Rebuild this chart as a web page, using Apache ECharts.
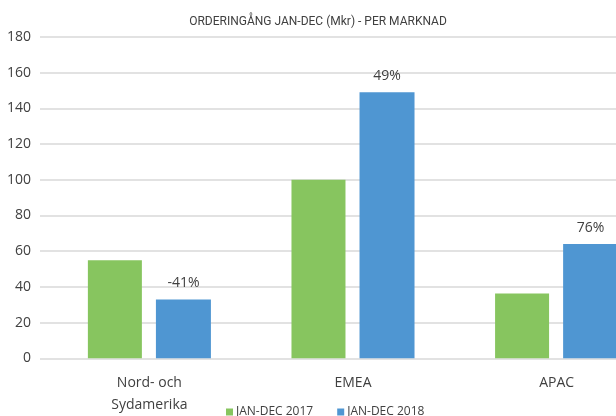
<!DOCTYPE html>
<html><head><meta charset="utf-8">
<script src="https://cdn.jsdelivr.net/npm/echarts@6/dist/echarts.min.js"></script>
<style>html,body{margin:0;padding:0;background:#fff}#c{width:616px;height:416px}</style>
</head><body><div id="c"></div>
<script>
const categories = ['Nord- och\nSydamerika', 'EMEA', 'APAC'];
const seriesNames = ['JAN-DEC 2017', 'JAN-DEC 2018'];
const values2017 = [55, 100, 36.3];
const values2018 = [33, 149, 64];
const changeLabels = ['-41%', '49%', '76%'];
const yTicks = [0, 20, 40, 60, 80, 100, 120, 140, 160, 180];

const font = '"Open Sans", "Noto Sans", sans-serif';
const chart = echarts.init(document.getElementById('c'), null, {renderer: 'canvas'});
chart.setOption({
  animation: false,
  backgroundColor: '#ffffff',
  title: {
    text: 'ORDERINGÅNG JAN-DEC (Mkr) - PER MARKNAD',
    left: 313, top: 11, textAlign: 'center',
    textStyle: {fontFamily: '"Liberation Sans Narrow", "Roboto", sans-serif', fontSize: 12, fontWeight: 'normal', color: '#404040'}
  },
  legend: {
    left: 221, top: 401, icon: 'rect', itemWidth: 7, itemHeight: 7, itemGap: 24,
    textStyle: {fontFamily: font, fontSize: 12, color: '#404040', padding: [0, 0, 0, -2]},
    data: seriesNames
  },
  grid: [
    {left: 40, right: 0, top: 37, bottom: 57.7, outerBoundsMode: 'none', containLabel: false},
    {left: 47.6, width: 610.8, top: 37, bottom: 57.7, outerBoundsMode: 'none', containLabel: false}
  ],
  xAxis: [
    {gridIndex: 0, type: 'category', data: categories, show: false},
    {gridIndex: 1, type: 'category', data: categories,
     axisLine: {show: false}, axisTick: {show: false},
     axisLabel: {margin: 14, fontFamily: font, fontSize: 14, color: '#404040', lineHeight: 22}}
  ],
  yAxis: [
    {gridIndex: 0, type: 'value', min: yTicks[0], max: yTicks[yTicks.length - 1], interval: 20,
     axisLine: {show: false}, axisTick: {show: false},
     axisLabel: {margin: 9, fontFamily: font, fontSize: 14, color: '#404040'},
     splitLine: {lineStyle: {color: '#d9d9d9', width: 1.5}}},
    {gridIndex: 1, type: 'value', min: yTicks[0], max: yTicks[yTicks.length - 1], interval: 20, show: false}
  ],
  series: [
    {name: seriesNames[0], type: 'bar', xAxisIndex: 1, yAxisIndex: 1, data: values2017,
     barWidth: 54, barGap: '26%', itemStyle: {color: '#87C55F'}},
    {name: seriesNames[1], type: 'bar', xAxisIndex: 1, yAxisIndex: 1, data: values2018,
     barWidth: 55, barGap: '26%', itemStyle: {color: '#4F96D2'},
     label: {show: true, position: 'top', distance: 9, fontFamily: font, fontSize: 14, color: '#404040',
       formatter: p => changeLabels[p.dataIndex]}}
  ]
});
</script></body></html>
